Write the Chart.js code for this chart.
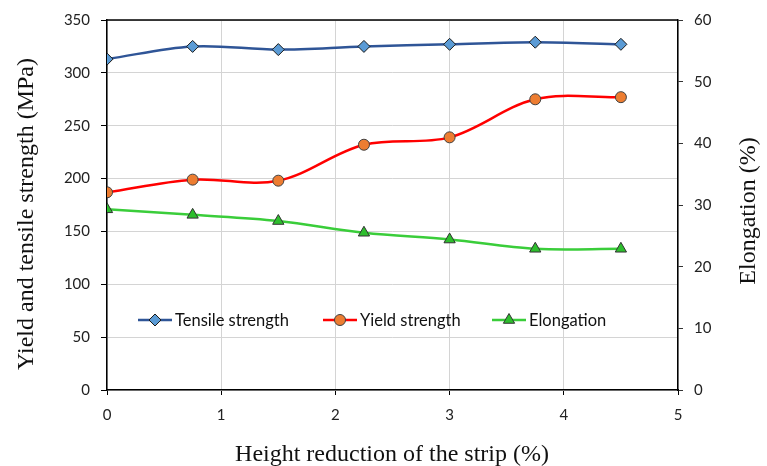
<!DOCTYPE html>
<html>
<head>
<meta charset="utf-8">
<script src="https://cdn.jsdelivr.net/npm/chart.js@4.4.0/dist/chart.umd.min.js"></script>
<style>
  html, body { margin: 0; padding: 0; background: #fff; }
</style>
</head>
<body>
<canvas id="chart" width="767" height="466"></canvas>
<script>
// height reduction of the strip (%)
const reduction = [0, 0.75, 1.5, 2.25, 3, 3.75, 4.5];
// MPa
const tensile = [313, 325, 322, 325, 327, 329, 327];
const yieldStr = [187, 199, 198, 232, 239, 275, 277];
// %
const elongation = [29.3, 28.4, 27.4, 25.5, 24.4, 22.9, 22.9];

const seriesNames = ["Tensile strength", "Yield strength", "Elongation"];
const xTitle = "Height reduction of the strip (%)";
const yTitle = "Yield and tensile strength (MPa)";
const y1Title = "Elongation (%)";

const toPoints = (ys) => ys.map((y, i) => ({ x: reduction[i], y: y }));

const tickFont = { family: "Lato, 'Open Sans', sans-serif", size: 15 };
const serif = "24px 'Liberation Serif', 'Times New Roman', serif";

//legend inside the plot, black top border and the axis titles (both side titles read upwards)
const extras = {
  id: "extras",
  afterDraw(chart) {
    const ctx = chart.ctx;
    const area = chart.chartArea;
    ctx.save();
    ctx.strokeStyle = "#000";
    ctx.lineWidth = 1.5;
    ctx.beginPath();
    ctx.moveTo(area.left, area.top);
    ctx.lineTo(area.right, area.top);
    ctx.stroke();

    //legend
    const ly = 320;
    const starts = [138, 323, 492];
    chart.data.datasets.forEach((ds, i) => {
      const x0 = starts[i];
      ctx.strokeStyle = ds.borderColor;
      ctx.lineWidth = 2.5;
      ctx.beginPath();
      ctx.moveTo(x0, ly);
      ctx.lineTo(x0 + 34, ly);
      ctx.stroke();
      ctx.fillStyle = ds.pointBackgroundColor;
      ctx.strokeStyle = ds.pointBorderColor;
      ctx.lineWidth = 1;
      Chart.helpers.drawPoint(ctx, {
        pointStyle: ds.pointStyle,
        radius: ds.pointRadius,
        rotation: 0,
        borderWidth: 1
      }, x0 + 17, ly);
      ctx.fillStyle = "#111";
      ctx.font = "16.5px Lato, 'Open Sans', sans-serif";
      ctx.textBaseline = "middle";
      ctx.textAlign = "left";
      ctx.fillText(ds.label, x0 + 37, ly + 1);
    });

    //titles
    ctx.fillStyle = "#111";
    ctx.font = serif;
    ctx.textAlign = "center";
    ctx.textBaseline = "alphabetic";
    ctx.fillText(xTitle, 392, 461);

    ctx.save();
    ctx.translate(33, 214);
    ctx.rotate(-Math.PI / 2);
    ctx.fillText(yTitle, 0, 0);
    ctx.restore();

    ctx.save();
    ctx.translate(755, 211);
    ctx.rotate(-Math.PI / 2);
    ctx.fillText(y1Title, 0, 0);
    ctx.restore();

    ctx.restore();
  }
};

new Chart(document.getElementById("chart"), {
  type: "line",
  plugins: [extras],
  data: {
    datasets: [
      {
        label: seriesNames[0],
        data: toPoints(tensile),
        yAxisID: "y",
        borderColor: "#2F5597",
        borderWidth: 2.5,
        pointStyle: "rectRot",
        pointRadius: 6,
        pointBackgroundColor: "#5B9BD5",
        pointBorderColor: "#1a1a1a",
        pointBorderWidth: 1,
        tension: 0.35
      },
      {
        label: seriesNames[1],
        data: toPoints(yieldStr),
        yAxisID: "y",
        borderColor: "#FF0000",
        borderWidth: 2.5,
        pointStyle: "circle",
        pointRadius: 5.5,
        pointBackgroundColor: "#ED7D31",
        pointBorderColor: "#404040",
        pointBorderWidth: 1,
        tension: 0.35
      },
      {
        label: seriesNames[2],
        data: toPoints(elongation),
        yAxisID: "y1",
        borderColor: "#3ACD3A",
        borderWidth: 2.5,
        pointStyle: "triangle",
        pointRadius: 6.5,
        pointBackgroundColor: "#2DBE2D",
        pointBorderColor: "#333",
        pointBorderWidth: 1,
        tension: 0.35
      }
    ]
  },
  options: {
    responsive: false,
    animation: false,
    layout: { padding: { top: 19, left: 0, right: 0, bottom: 0 } },
    plugins: {
      legend: { display: false },
      tooltip: { enabled: false }
    },
    scales: {
      x: {
        type: "linear",
        min: 0,
        max: 5,
        ticks: { stepSize: 1, color: "#222", font: tickFont, padding: 11 },
        grid: { color: "#D4D4D4", tickColor: "#000", tickLength: 5, lineWidth: 1 },
        border: { color: "#000", width: 1.5 },
        afterFit: (scale) => { scale.height = 76; }
      },
      y: {
        position: "left",
        min: 0,
        max: 350,
        ticks: { stepSize: 50, color: "#222", font: tickFont, padding: 11 },
        grid: { color: "#D4D4D4", tickColor: "#000", tickLength: 6 },
        border: { color: "#000", width: 1.5 },
        afterFit: (scale) => { scale.width = 107; }
      },
      y1: {
        position: "right",
        min: 0,
        max: 60,
        ticks: { stepSize: 10, color: "#222", font: tickFont, padding: 11 },
        grid: { drawOnChartArea: false, tickColor: "#333", tickLength: 5 },
        border: { color: "#000", width: 1.5 },
        afterFit: (scale) => { scale.width = 89; }
      }
    }
  }
});
</script>
</body>
</html>
